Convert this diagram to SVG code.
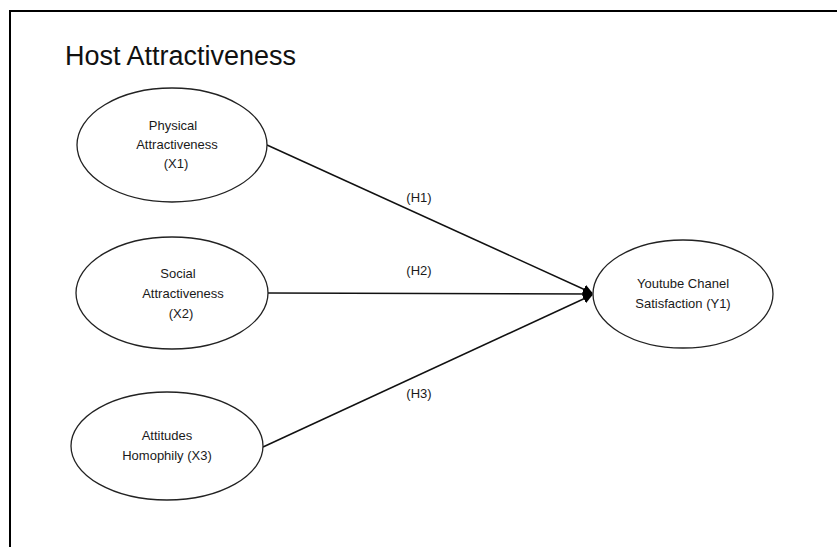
<svg xmlns="http://www.w3.org/2000/svg" width="837" height="547" viewBox="0 0 837 547">
  <style>
    .node ellipse { fill: #ffffff; stroke: #222222; stroke-width: 1.3; }
    .node text, .lbl { font-family: "Liberation Sans", Arial, sans-serif; font-size: 13px; fill: #1a1a1a; text-anchor: middle; }
    .edge { stroke: #111111; stroke-width: 1.5; fill: none; marker-end: url(#arrow); }
    .title { font-family: "Liberation Sans", Arial, sans-serif; font-size: 27px; fill: #111111; }
  </style>
  <defs>
    <marker id="arrow" markerWidth="10" markerHeight="10" refX="9" refY="5" orient="auto" markerUnits="userSpaceOnUse">
      <path d="M0,0 L10,5 L0,10 Z" fill="#000000"/>
    </marker>
  </defs>
  <rect x="0" y="0" width="837" height="547" fill="#ffffff"/>
  <path d="M10,547 L10,11 L837,11" fill="none" stroke="#000000" stroke-width="2"/>
  <text class="title" x="65" y="65">Host Attractiveness</text>

  <g id="connectors">
    <line class="edge" x1="267" y1="145" x2="592" y2="293"/>
    <line class="edge" x1="268" y1="293" x2="592" y2="294"/>
    <line class="edge" x1="263" y1="447" x2="592" y2="295"/>
    <text class="lbl" x="419" y="202">(H1)</text>
    <text class="lbl" x="419" y="275">(H2)</text>
    <text class="lbl" x="419" y="398">(H3)</text>
  </g>

  <g id="x1" class="node">
    <ellipse cx="172" cy="145" rx="95" ry="57"/>
    <text x="173" y="130">Physical</text>
    <text x="177" y="149">Attractiveness</text>
    <text x="176" y="168">(X1)</text>
  </g>
  <g id="x2" class="node">
    <ellipse cx="172" cy="293" rx="96" ry="56"/>
    <text x="178" y="278">Social</text>
    <text x="183" y="298">Attractiveness</text>
    <text x="181" y="318">(X2)</text>
  </g>
  <g id="x3" class="node">
    <ellipse cx="167" cy="446" rx="96" ry="54"/>
    <text x="167" y="440">Attitudes</text>
    <text x="167" y="460">Homophily (X3)</text>
  </g>
  <g id="y1" class="node">
    <ellipse cx="683" cy="294" rx="90" ry="54"/>
    <text x="683" y="288">Youtube Chanel</text>
    <text x="683" y="308">Satisfaction (Y1)</text>
  </g>
</svg>
